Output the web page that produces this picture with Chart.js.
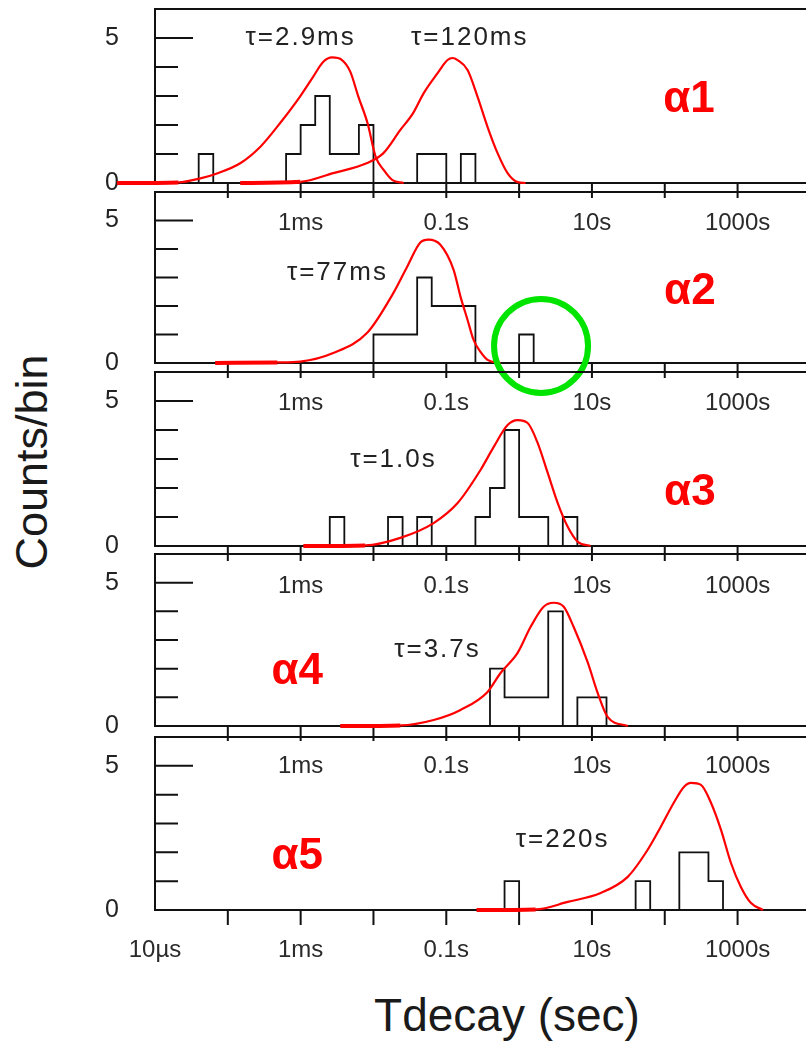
<!DOCTYPE html>
<html>
<head>
<meta charset="utf-8">
<script src="https://cdn.jsdelivr.net/npm/chart.js@4.4.1/dist/chart.umd.min.js"></script>
<style>
  html, body { margin: 0; padding: 0; background: #fff; }
  body { width: 806px; height: 1044px; position: relative; overflow: hidden;
         font-family: "Liberation Sans", Arial, sans-serif; }
  canvas.panel { position: absolute; left: 0; }
  #ytitle { position: absolute; left: 32px; top: 462px; font-size: 45px; color: #1a1a1a;
            transform: translate(-50%, -50%) rotate(-90deg); white-space: nowrap; }
  #xtitle { position: absolute; left: 507px; top: 1015px; font-size: 46px; color: #1a1a1a;
            transform: translate(-50%, -50%); white-space: nowrap; }
</style>
</head>
<body>
<div id="ytitle">Counts/bin</div>
<div id="xtitle">Tdecay (sec)</div>
<script>
const Chart = window.Chart;

// x axis: decay time (s), logarithmic
const X_MIN = 1e-5;
const X_MAX = 8.7e3;
const decadeTicks = [1e-4, 1e-3, 1e-2, 1e-1, 1, 10, 100, 1e3];
const labelTicks = [1e-5, 1e-3, 1e-1, 10, 1e3];
const labelText = ["10µs", "1ms", "0.1s", "10s", "1000s"];
const yMinorTicks = [1, 2, 3, 4, 6];

// histograms: counts in 0.2-decade bins, first lower edge given as log10(sec)
const BIN_DEC = 0.2;
const hist1Start = -4.4;
const hist1 = [1, 0, 0, 0, 0, 0, 1, 2, 3, 1, 1, 2, 0, 0, 0, 1, 1, 0, 1];
const hist2Start = -2.0;
const hist2 = [1, 1, 1, 3, 2, 2, 2, 0, 0, 0, 1];
const hist3Start = -2.6;
const hist3 = [1, 0, 0, 0, 1, 0, 1, 0, 0, 0, 1, 2, 4, 1, 1, 0, 1];
const hist4Start = -0.4;
const hist4 = [2, 1, 1, 1, 4, 0, 1, 1];
const hist5Start = -0.2;
const hist5 = [1, 0, 0, 0, 0, 0, 0, 0, 0, 1, 0, 0, 2, 2, 1];

// fitted distributions: time (s) and counts/bin
const fit1aT = [3.0e-6, 2.1e-5, 4.2e-5, 7.1e-5, 1.48e-4, 2.8e-4, 5.2e-4, 9.8e-4, 1.49e-3, 2.05e-3, 2.7e-3, 3.7e-3, 4.8e-3, 6.2e-3, 8.3e-3, 1.07e-2, 1.38e-2, 1.82e-2, 2.6e-2];
const fit1aN = [0, 0.02, 0.16, 0.33, 0.68, 1.25, 2.06, 2.98, 3.67, 4.18, 4.33, 4.24, 3.84, 2.98, 2.06, 0.91, 0.45, 0.1, 0];
const fit1bT = [1.48e-4, 9.9e-4, 2.8e-3, 8.2e-3, 1.37e-2, 2.34e-2, 3.5e-2, 4.9e-2, 7.6e-2, 0.104, 0.122, 0.143, 0.196, 0.269, 0.369, 0.506, 0.695, 0.953, 1.23];
const fit1bN = [0, 0.04, 0.34, 0.69, 1.03, 1.83, 2.41, 3.10, 3.79, 4.24, 4.31, 4.24, 3.90, 2.97, 1.93, 1.03, 0.34, 0.03, 0];
const fit2T = [6.7e-5, 4.8e-4, 9.9e-4, 2.8e-3, 8.2e-3, 1.88e-2, 2.9e-2, 4.4e-2, 5.7e-2, 8.3e-2, 0.126, 0.157, 0.196, 0.237, 0.295, 0.369, 0.556];
const fit2N = [0, 0.02, 0.05, 0.35, 1.06, 2.46, 3.38, 4.23, 4.33, 4.15, 3.27, 2.32, 1.51, 0.81, 0.39, 0.11, 0];
const fit3T = [1.09e-3, 7.7e-3, 2.34e-2, 6.7e-2, 0.143, 0.295, 0.446, 0.695, 0.953, 1.31, 1.80, 2.47, 3.39, 4.65, 6.4, 9.6];
const fit3N = [0, 0.02, 0.28, 0.79, 1.48, 2.62, 3.41, 4.17, 4.34, 4.24, 3.55, 2.52, 1.48, 0.66, 0.14, 0];
const fit4T = [3.5e-3, 2.34e-2, 6.7e-2, 0.157, 0.369, 0.556, 0.953, 1.44, 2.17, 2.98, 4.10, 5.6, 8.8, 12.0, 16.5, 31];
const fit4N = [0, 0.02, 0.21, 0.56, 1.19, 1.85, 2.55, 3.46, 4.16, 4.30, 4.16, 3.46, 2.20, 1.15, 0.31, 0];
const fit5T = [0.26, 1.69, 4.65, 13.2, 31, 58, 88, 133, 183, 229, 314, 431, 592, 811, 1110, 1530, 2230];
const fit5N = [0, 0.02, 0.28, 0.59, 1.15, 2.08, 2.88, 3.72, 4.27, 4.41, 4.34, 3.72, 2.78, 1.63, 0.80, 0.24, 0];

// the lone long event in the second panel gets circled
const outlierMark = { x: 2.0, y: 0.6 };

const FONT = '"Liberation Sans", Arial, sans-serif';
const PAD_TOP = 10;
const AXIS_H = 60;

const panels = [
  { top: 9, bottom: 183, start: hist1Start, counts: hist1,
    fits: [[fit1aT, fit1aN], [fit1bT, fit1bN]],
    notes: [{ text: "τ=2.9ms", x: 1.0e-3, y: 5.0, kind: "tau" },
            { text: "τ=120ms", x: 0.21, y: 5.0, kind: "tau" },
            { text: "α1", x: 215, y: 2.86, kind: "alpha" }] },
  { top: 192, bottom: 363, start: hist2Start, counts: hist2,
    fits: [[fit2T, fit2N]], mark: outlierMark,
    notes: [{ text: "τ=77ms", x: 3.2e-3, y: 3.17, kind: "tau" },
            { text: "α2", x: 221, y: 2.5, kind: "alpha" }] },
  { top: 372, bottom: 546, start: hist3Start, counts: hist3,
    fits: [[fit3T, fit3N]],
    notes: [{ text: "τ=1.0s", x: 0.0188, y: 2.97, kind: "tau" },
            { text: "α3", x: 221, y: 1.83, kind: "alpha" }] },
  { top: 554, bottom: 726, start: hist4Start, counts: hist4,
    fits: [[fit4T, fit4N]],
    notes: [{ text: "τ=3.7s", x: 0.0757, y: 2.66, kind: "tau" },
            { text: "α4", x: 9.0e-4, y: 1.89, kind: "alpha" }] },
  { top: 737, bottom: 910, start: hist5Start, counts: hist5,
    fits: [[fit5T, fit5N]], lastPanel: true,
    notes: [{ text: "τ=220s", x: 3.96, y: 2.43, kind: "tau" },
            { text: "α5", x: 9.0e-4, y: 1.84, kind: "alpha" }] },
];

// outline of a histogram: rise at the first edge, one step per bin, drop at the end
function histPoints(start, counts) {
  const pts = [{ x: Math.pow(10, start), y: 0 }];
  counts.forEach((c, i) => pts.push({ x: Math.pow(10, start + i * BIN_DEC), y: c }));
  pts.push({ x: Math.pow(10, start + counts.length * BIN_DEC), y: 0 });
  return pts;
}

// axis frame with inward y ticks and outward decade ticks
const framePlugin = {
  id: "panelFrame",
  beforeDatasetsDraw(chart) {
    const { ctx, chartArea: { left, right, top, bottom }, scales: { x, y } } = chart;
    ctx.save();
    ctx.strokeStyle = "#111";
    ctx.lineWidth = 2;
    ctx.beginPath();
    ctx.moveTo(right, top);
    ctx.lineTo(left, top);
    ctx.lineTo(left, bottom);
    ctx.lineTo(right, bottom);
    yMinorTicks.concat([5]).forEach(v => {
      const py = y.getPixelForValue(v);
      ctx.moveTo(left, py);
      ctx.lineTo(left + (v === 5 ? 38 : 23), py);
    });
    decadeTicks.forEach(v => {
      const px = x.getPixelForValue(v);
      ctx.moveTo(px, bottom);
      ctx.lineTo(px, bottom + 15);
    });
    ctx.stroke();
    ctx.restore();
  }
};

const notesPlugin = {
  id: "panelNotes",
  afterDatasetsDraw(chart, args, opts) {
    const { ctx, scales: { x, y } } = chart;
    ctx.save();
    ctx.textAlign = "center";
    ctx.textBaseline = "middle";
    (opts.notes || []).forEach(n => {
      if (n.kind === "alpha") {
        ctx.fillStyle = "#ff0000";
        ctx.font = "bold 44px " + FONT;
        ctx.letterSpacing = "0px";
      } else {
        ctx.fillStyle = "#222";
        ctx.font = "26px " + FONT;
        ctx.letterSpacing = "2px";
      }
      ctx.fillText(n.text, x.getPixelForValue(n.x), y.getPixelForValue(n.y));
    });
    ctx.restore();
  }
};

function buildPanel(p) {
  const height = PAD_TOP + (p.bottom - p.top) + AXIS_H;
  const canvas = document.createElement("canvas");
  canvas.className = "panel";
  canvas.width = 806;
  canvas.height = height;
  canvas.style.top = (p.top - PAD_TOP) + "px";
  canvas.style.width = "806px";
  canvas.style.height = height + "px";
  document.body.appendChild(canvas);

  const datasets = [];
  p.fits.forEach(([t, n]) => {
    datasets.push({
      data: t.map((v, i) => ({ x: v, y: n[i] })),
      borderColor: "#ff0000",
      borderWidth: 2.2,
      cubicInterpolationMode: "monotone",
      pointRadius: 0,
      clip: false,
      order: 1,
      segment: { borderWidth: c => (c.p0DataIndex === 0 ? 4 : 2.2) },
    });
  });
  datasets.push({
    data: histPoints(p.start, p.counts),
    stepped: "before",
    borderColor: "#111",
    borderWidth: 1.8,
    pointRadius: 0,
    order: 2,
  });
  if (p.mark) {
    datasets.push({
      data: [p.mark],
      showLine: false,
      pointRadius: 47,
      pointBorderWidth: 6,
      pointBorderColor: "#00e400",
      pointBackgroundColor: "rgba(0,0,0,0)",
      clip: false,
      order: 0,
    });
  }

  const shownTicks = p.lastPanel ? labelTicks : labelTicks.slice(1);

  new Chart(canvas, {
    type: "line",
    data: { datasets },
    plugins: [framePlugin, notesPlugin],
    options: {
      responsive: false,
      animation: false,
      events: [],
      devicePixelRatio: 1,
      layout: { autoPadding: false, padding: { top: PAD_TOP, right: 0, bottom: 0, left: 0 } },
      plugins: {
        legend: { display: false },
        tooltip: { enabled: false },
        panelNotes: { notes: p.notes },
      },
      scales: {
        x: {
          type: "logarithmic",
          min: X_MIN,
          max: X_MAX,
          grid: { display: false, drawTicks: false },
          border: { display: false },
          afterBuildTicks: s => { s.ticks = shownTicks.map(v => ({ value: v })); },
          afterFit: s => { s.height = AXIS_H; s.paddingLeft = 0; s.paddingRight = 0; },
          ticks: {
            autoSkip: false,
            maxRotation: 0,
            padding: 26,
            color: "#2a2a2a",
            font: { family: FONT, size: 24 },
            callback: v => labelText[labelTicks.indexOf(v)],
          },
        },
        y: {
          min: 0,
          max: 6,
          grid: { display: false, drawTicks: false },
          border: { display: false },
          afterBuildTicks: s => { s.ticks = [{ value: 0 }, { value: 5 }]; },
          afterFit: s => { s.width = 155; s.paddingTop = 0; s.paddingBottom = 0; },
          ticks: {
            padding: 36,
            color: "#222",
            font: { family: FONT, size: 25 },
          },
        },
      },
    },
  });
}

panels.forEach(buildPanel);
</script>
</body>
</html>
